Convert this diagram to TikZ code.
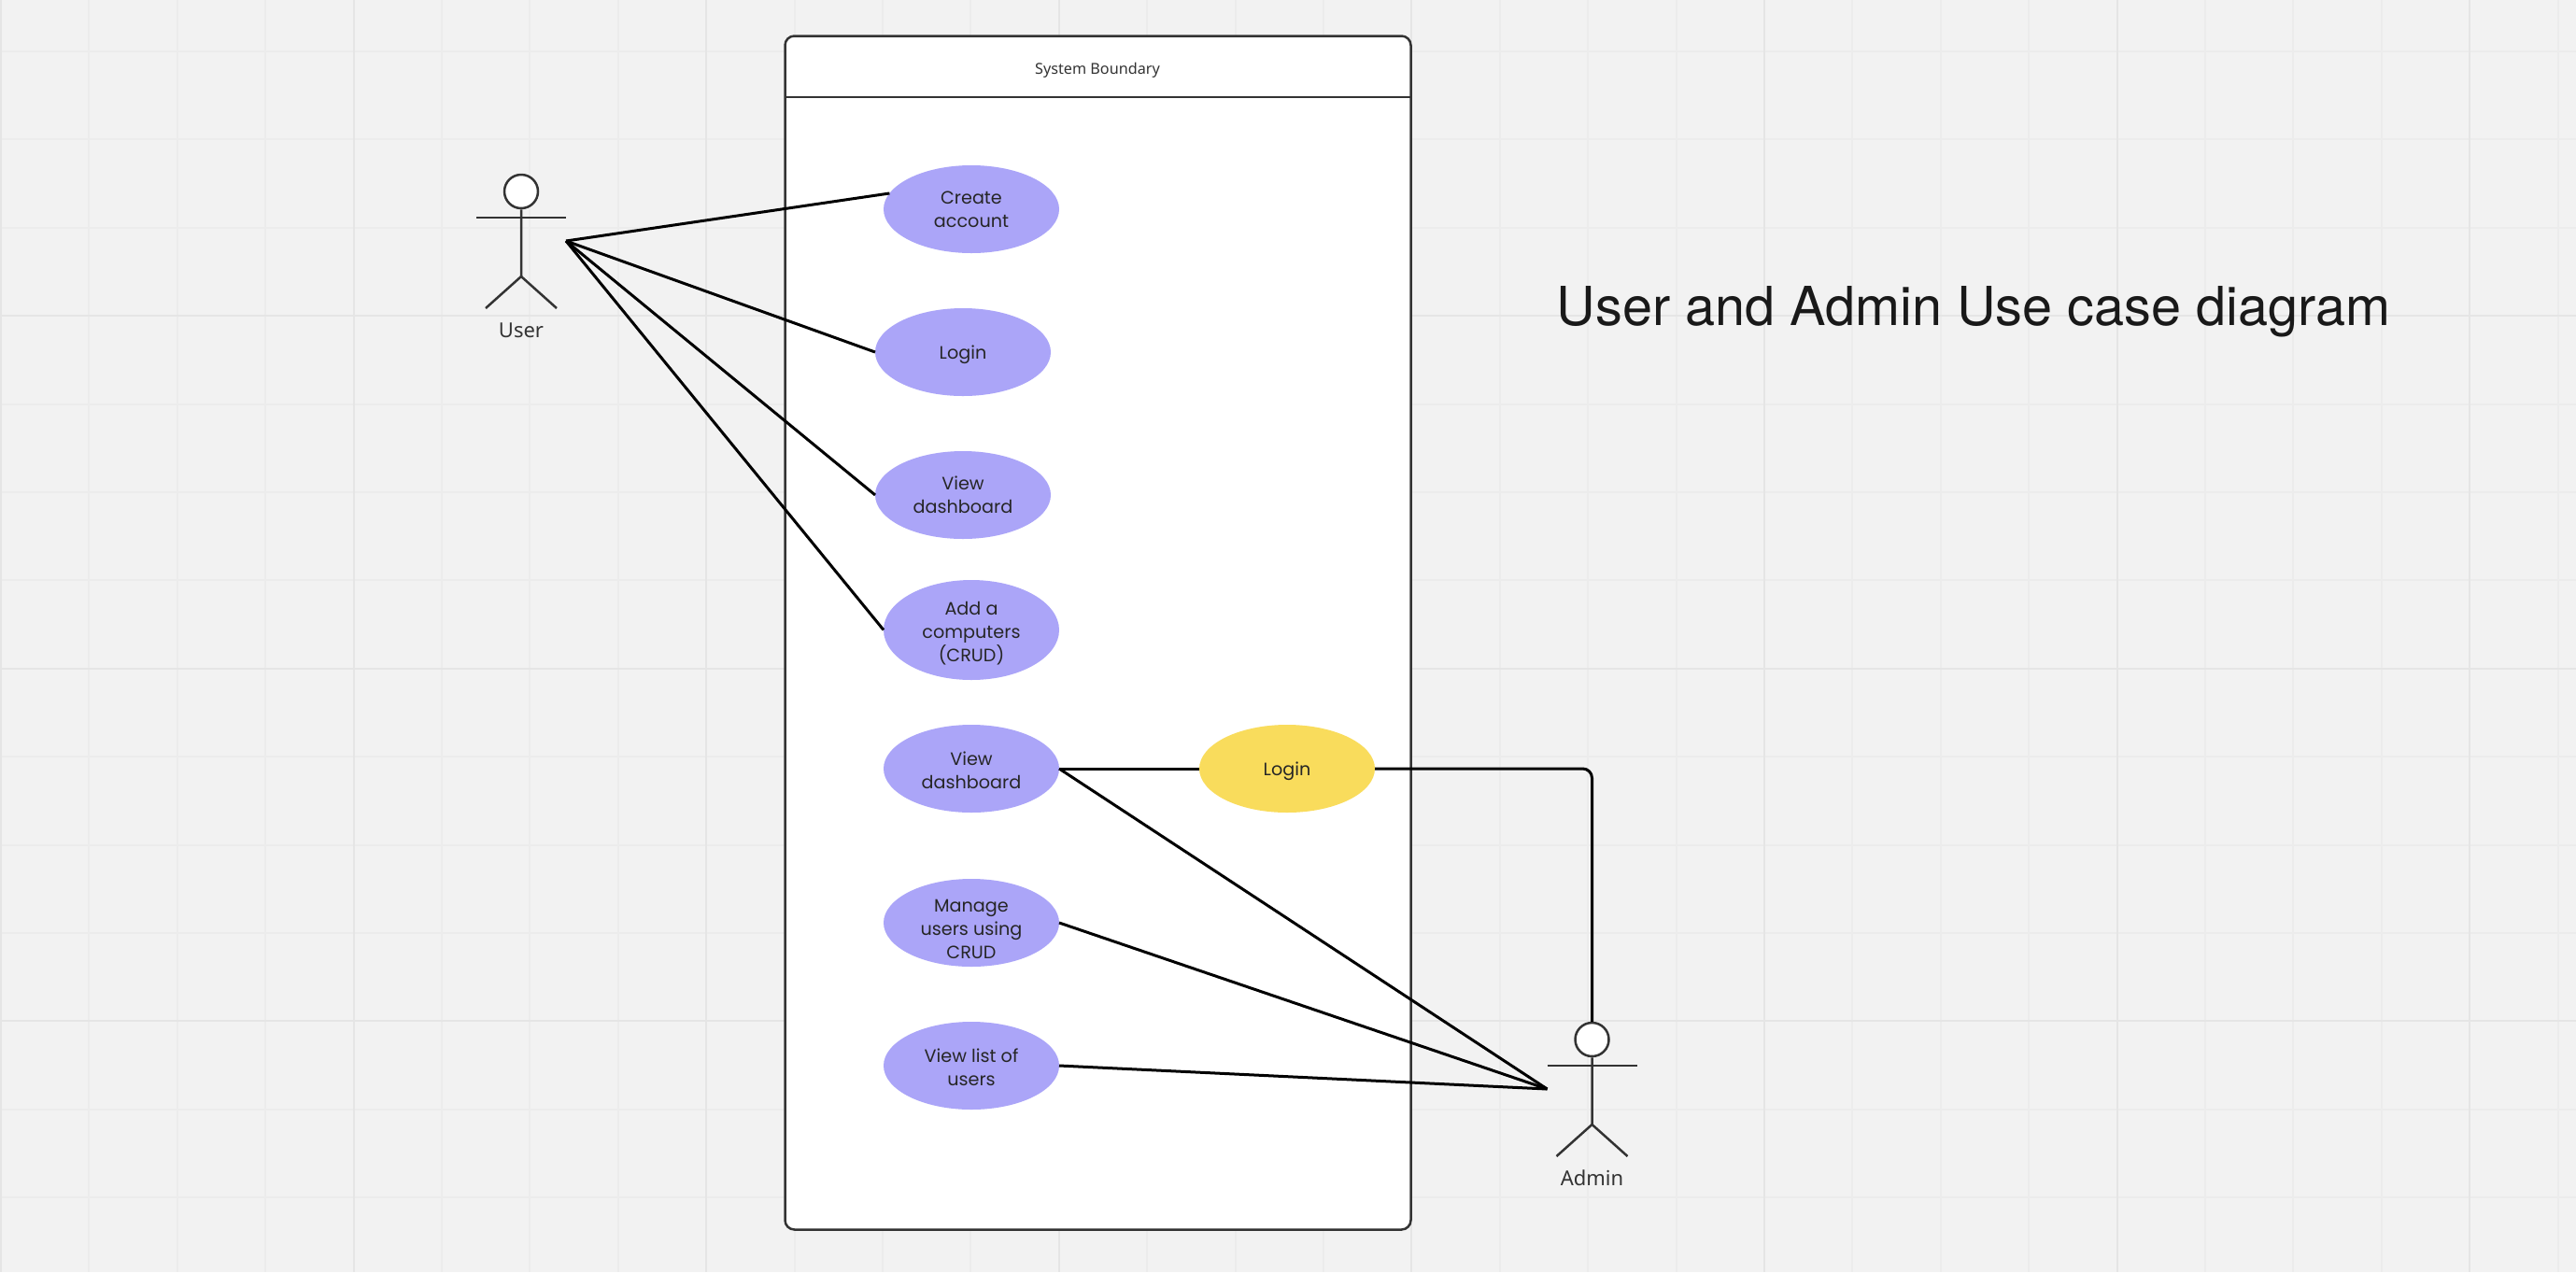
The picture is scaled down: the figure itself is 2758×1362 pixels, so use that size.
\documentclass[tikz,border=0pt]{standalone}
\usepackage{fontspec}
\setmainfont{Noto Sans}
\newfontfamily\titlefont{TeX Gyre Heros}
\newfontfamily\casefont{Poppins}
\usetikzlibrary{shapes.geometric, positioning}

\definecolor{canvasgray}{HTML}{F2F2F2}
\definecolor{gridminor}{HTML}{ECECEC}
\definecolor{gridmajor}{HTML}{E5E5E5}
\definecolor{inkgray}{HTML}{333333}
\definecolor{casepurple}{HTML}{ABA5F8}
\definecolor{caseyellow}{HTML}{F9DC5C}

\newcommand{\textdrop}[1]{\rule{0pt}{#1}}

\tikzset{
    actor/.pic={
        \node (-head) [circle, draw=inkgray, line width=1.25pt, fill=white, minimum size=18pt, inner sep=0pt] at (0,0) {};
        \coordinate (-rhand) at (48,53);
        \coordinate (-lhand) at (-48,53);
        \draw[line width=1.25pt, draw=inkgray] (-head.south) -- (0,91) -- (-38,125);
        \draw[line width=1.25pt, draw=inkgray] (0,91) -- (38,125);
        \draw[line width=1.25pt, draw=inkgray] (-48,28) -- (48,28);
        \node [text=inkgray, font=\fontsize{11}{13}\selectfont] at (0,148.5) {#1};
    }
}

\begin{document}
\begin{tikzpicture}[
    x=0.5pt, y=-0.5pt,
    node distance=29.5pt,
    boundary/.style={rectangle, draw=inkgray, line width=1.25pt, fill=white, rounded corners=5pt, minimum width=335pt, minimum height=639pt, inner sep=0pt, outer sep=0pt},
    casetext/.style={text=black!85, inner sep=0pt, outer sep=0pt, align=center, font=\fontsize{9.6}{12.5}\selectfont\casefont},
    usecase/.style={ellipse, casetext, fill=casepurple, minimum width=94pt, minimum height=47pt},
    link/.style={draw=black, line width=1.5pt}
]

    % Canvas and grid
    \useasboundingbox (0,0) rectangle (2758,1362);
    \fill[canvasgray] (0,0) rectangle (2758,1362);
    \foreach \i in {0,...,29} {
        \draw[gridminor, line width=1pt] ({1+94.4*\i},0) -- ({1+94.4*\i},1362);
    }
    \foreach \i in {1,...,15} {
        \draw[gridminor, line width=1pt] (0,{-39.4+94.4*\i}) -- (2758,{-39.4+94.4*\i});
    }
    \foreach \i in {0,...,7} {
        \draw[gridmajor, line width=1pt] ({1+377.6*\i},0) -- ({1+377.6*\i},1362);
    }
    \foreach \i in {1,...,3} {
        \draw[gridmajor, line width=1pt] (0,{-39.4+377.6*\i}) -- (2758,{-39.4+377.6*\i});
    }

    % System boundary
    \node (frame) [boundary, anchor=north west] at (840.5,38.5) {};
    \coordinate (headl) at (frame.west |- 0,104);
    \coordinate (headr) at (frame.east |- 0,104);
    \draw[draw=inkgray, line width=1.25pt] (headl) -- (headr);
    \node (frametitle) [font=\fontsize{8.1}{10}\selectfont, text=inkgray] at (1175,75) {System Boundary};

    % Use cases
    \node (create) [usecase] at (1040,224) {Create\\account};
    \node (login) [usecase, below=of create, xshift=-4.5pt] {\textdrop{9.7pt}Login};
    \node (dash) [usecase, below=of login] {View\\dashboard};
    \node (add) [usecase, minimum height=53.5pt, below=22pt of dash, xshift=4.5pt] {\textdrop{10.7pt}Add a\\computers\\(CRUD)};
    \node (admindash) [usecase, below=24pt of add] {\textdrop{9pt}View\\dashboard};
    \node (manage) [usecase, below=35.5pt of admindash, label={[casetext, yshift=-3.5pt]center:{Manage\\users using\\CRUD}}] {};
    \node (list) [usecase, below=of manage] {\textdrop{9pt}View list of\\users};
    \node (adminlogin) [usecase, fill=caseyellow, right=75pt of admindash] {\textdrop{9.7pt}Login};

    % Actors
    \pic (user) at (558,205) {actor=User};
    \pic (admin) at (1704.5,1113) {actor=Admin};

    % Title
    \node (title) [font=\fontsize{28.8}{34}\selectfont\titlefont, text=black!90] at (2113,334) {User and Admin Use case diagram};

    % Links
    \draw[link] (user-rhand) -- (create.169);
    \draw[link] (user-rhand) -- (login.west);
    \draw[link] (user-rhand) -- (dash.west);
    \draw[link] (user-rhand) -- (add.west);
    \draw[link] (admindash.east) -- (adminlogin.west);
    \draw[link, rounded corners=5pt] (adminlogin.east) -| (admin-head.north);
    \draw[link] (admindash.east) -- (admin-lhand);
    \draw[link] (manage.east) -- (admin-lhand);
    \draw[link] (list.east) -- (admin-lhand);

\end{tikzpicture}
\end{document}
